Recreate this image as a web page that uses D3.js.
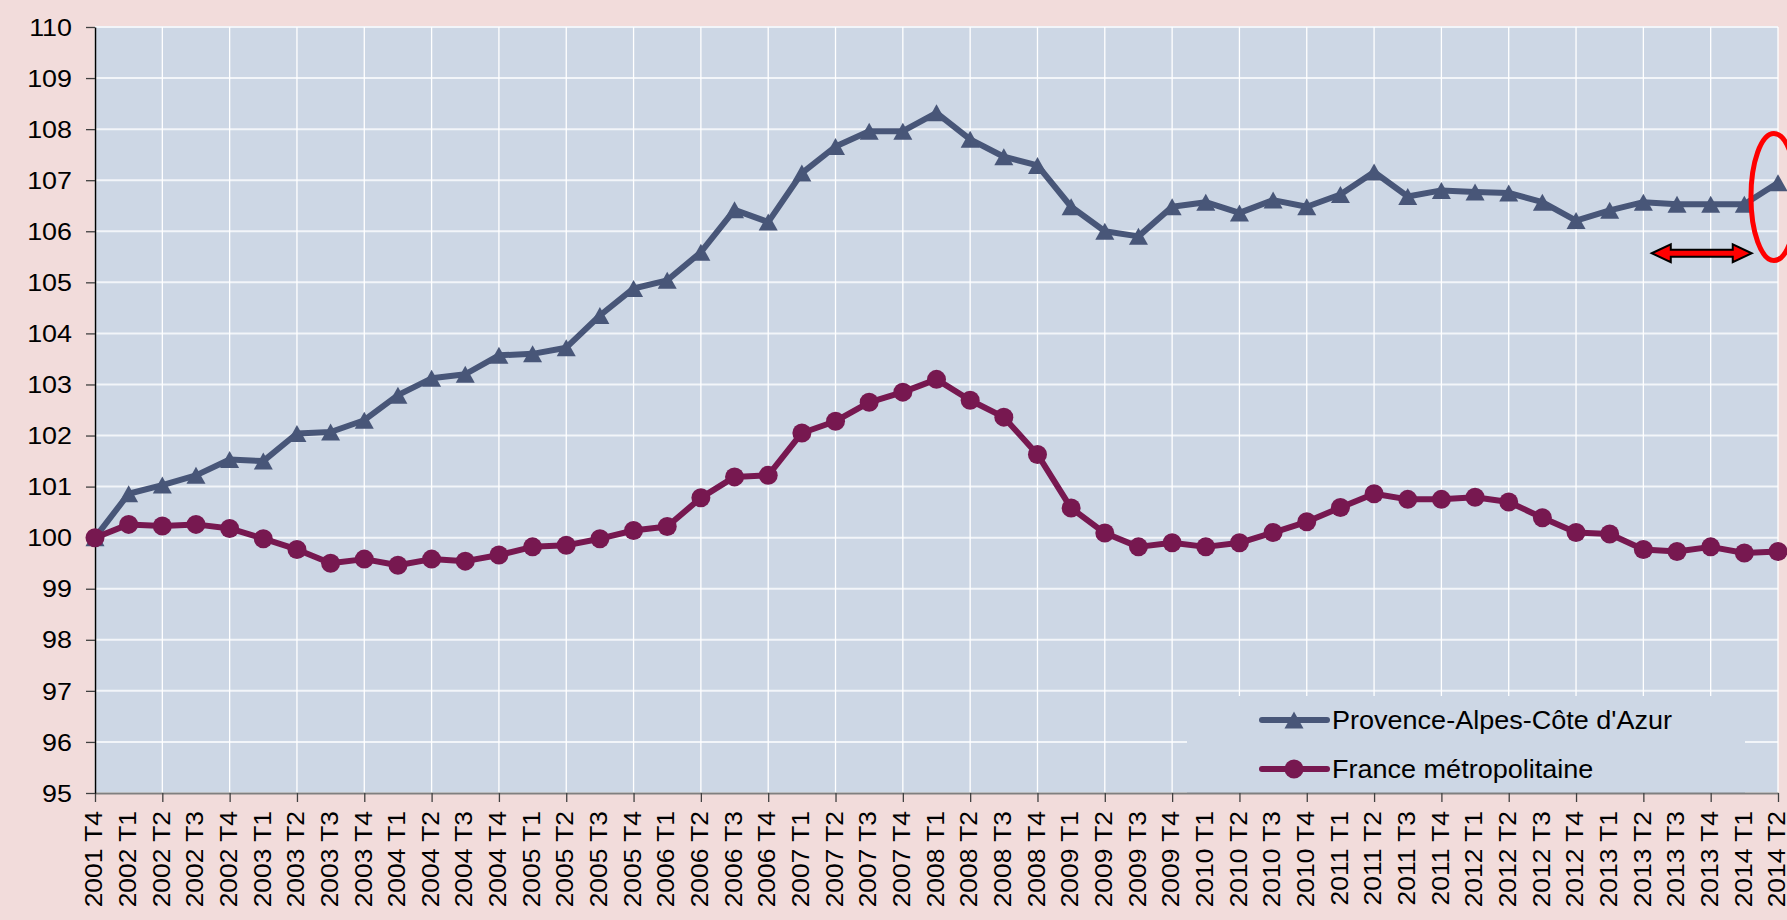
<!DOCTYPE html>
<html>
<head>
<meta charset="utf-8">
<script src="https://cdnjs.cloudflare.com/ajax/libs/d3/7.8.5/d3.min.js"></script>
<style>
body { margin: 0; background: #f2dcdb; }
svg { display: block; }
</style>
</head>
<body>
<svg id="chart"></svg>
<script>
const categories = [
    "2001 T4",
    "2002 T1", "2002 T2", "2002 T3", "2002 T4",
    "2003 T1", "2003 T2", "2003 T3", "2003 T4",
    "2004 T1", "2004 T2", "2004 T3", "2004 T4",
    "2005 T1", "2005 T2", "2005 T3", "2005 T4",
    "2006 T1", "2006 T2", "2006 T3", "2006 T4",
    "2007 T1", "2007 T2", "2007 T3", "2007 T4",
    "2008 T1", "2008 T2", "2008 T3", "2008 T4",
    "2009 T1", "2009 T2", "2009 T3", "2009 T4",
    "2010 T1", "2010 T2", "2010 T3", "2010 T4",
    "2011 T1", "2011 T2", "2011 T3", "2011 T4",
    "2012 T1", "2012 T2", "2012 T3", "2012 T4",
    "2013 T1", "2013 T2", "2013 T3", "2013 T4",
    "2014 T1", "2014 T2"
];

// Provence-Alpes-Côte d'Azur
const pacaValues = [
    100.00,
    100.86, 101.03, 101.22, 101.53,
    101.50, 102.04, 102.07, 102.30,
    102.79, 103.12, 103.20, 103.57,
    103.60, 103.72, 104.35, 104.88,
    105.04, 105.59, 106.42, 106.18,
    107.14, 107.66, 107.96, 107.96,
    108.32, 107.80, 107.46, 107.29,
    106.48, 106.00, 105.90, 106.48,
    106.57, 106.36, 106.61, 106.48,
    106.72, 107.16, 106.68, 106.80,
    106.77, 106.75, 106.57, 106.21,
    106.41, 106.57, 106.53, 106.53,
    106.53, 106.95
];

// France métropolitaine
const franceValues = [
    100.00,
    100.26, 100.23, 100.26, 100.18,
    99.98, 99.77, 99.50, 99.58,
    99.46, 99.58, 99.54, 99.66,
    99.82, 99.85, 99.98, 100.14,
    100.22, 100.78, 101.19, 101.22,
    102.05, 102.28, 102.65, 102.85,
    103.10, 102.69, 102.36, 101.63,
    100.58, 100.09, 99.82, 99.90,
    99.82, 99.90, 100.10, 100.31,
    100.59, 100.86, 100.75, 100.75,
    100.79, 100.70, 100.39, 100.10,
    100.07, 99.77, 99.73, 99.82,
    99.70, 99.73
];

const seriesNames = ["Provence-Alpes-Côte d'Azur", "France métropolitaine"];
const yTicks = d3.range(95, 111);

// annotation (index units on x, values on y)
const arrowFrom = 46.25, arrowTo = 49.22, arrowAt = 105.57;
const ellipseAt = [49.88, 106.67];

const width = 1787, height = 920;
const margin = {top: 27, right: 9, bottom: 127, left: 95};
const innerW = width - margin.left - margin.right,
    innerH = height - margin.top - margin.bottom;

const fontFamily = '"Liberation Sans", Arial, Helvetica, sans-serif';
const pacaColor = "#485678",
    franceColor = "#771850",
    plotBg = "#cdd7e5";

const svg = d3.select("#chart").attr("width", width).attr("height", height);
svg.append("rect").attr("width", width).attr("height", height).attr("fill", "#f2dcdb");

const g = svg.append("g").attr("transform", `translate(${margin.left},${margin.top})`);

const x = d3.scalePoint().domain(categories).range([0, innerW]).padding(0);
const xi = d3.scaleLinear().domain([0, categories.length - 1]).range([0, innerW]);
const y = d3.scaleLinear().domain([95, 110]).range([innerH, 0]);

g.append("rect")
    .attr("width", innerW)
    .attr("height", innerH)
    .attr("fill", plotBg);

// gridlines
g.append("g").selectAll("line")
    .data(yTicks)
    .join("line")
    .attr("x1", 0).attr("x2", innerW)
    .attr("y1", d => y(d)).attr("y2", d => y(d))
    .attr("stroke", "#f2f5f9")
    .attr("stroke-width", 2);

g.append("g").selectAll("line")
    .data(categories.filter((d, i) => i % 2 == 0))
    .join("line")
    .attr("x1", d => x(d)).attr("x2", d => x(d))
    .attr("y1", 0).attr("y2", innerH)
    .attr("stroke", "#ffffff")
    .attr("stroke-width", 1.3);

// legend box hides the grid behind it
const legendBox = {x: 1092, y: 669, w: 558, h: innerH - 669};
g.append("rect")
    .attr("x", legendBox.x).attr("y", legendBox.y)
    .attr("width", legendBox.w).attr("height", legendBox.h)
    .attr("fill", plotBg);

// x axis
const xAxis = g.append("g")
    .attr("transform", `translate(0,${innerH})`)
    .call(d3.axisBottom(x).tickSize(9).tickSizeOuter(0));
xAxis.attr("font-family", fontFamily).attr("font-size", 24).attr("color", "#000");
xAxis.select(".domain").attr("stroke", "#808080").attr("stroke-width", 2);
xAxis.selectAll(".tick line")
    .attr("stroke", "#404040")
    .attr("stroke-width", 1.3)
    .attr("opacity", (d, i) => i % 2 == 0 ? 1 : 0);
xAxis.selectAll(".tick text")
    .attr("x", 0).attr("y", 0)
    .attr("dy", "0.28em")
    .attr("text-anchor", "end")
    .attr("transform", "translate(0,18) rotate(-90) scale(1.1,1)");

// y axis
const yAxis = g.append("g")
    .call(d3.axisLeft(y).tickValues(yTicks).tickSize(9).tickSizeOuter(0));
yAxis.attr("font-family", fontFamily).attr("font-size", 24).attr("color", "#000");
yAxis.select(".domain").attr("stroke", "#000").attr("stroke-width", 1.5);
yAxis.selectAll(".tick line").attr("stroke", "#404040").attr("stroke-width", 1.3);
yAxis.selectAll(".tick text")
    .attr("x", 0)
    .attr("dy", "0.34em")
    .attr("transform", "translate(-23,0) scale(1.12,1)");

// markers
const triangle = function(w, h) {
    return `M0,${-h / 2}L${w / 2},${h / 2}L${-w / 2},${h / 2}Z`;
};

const line = d3.line()
    .x((d, i) => x(categories[i]))
    .y(d => y(d));

const series = [
    {name: seriesNames[0], values: pacaValues, color: pacaColor, marker: "triangle"},
    {name: seriesNames[1], values: franceValues, color: franceColor, marker: "circle"}
];

series.forEach(function(s) {
    g.append("path")
        .datum(s.values)
        .attr("fill", "none")
        .attr("stroke", s.color)
        .attr("stroke-width", 6)
        .attr("stroke-linejoin", "round")
        .attr("d", line);

    const m = g.append("g");
    if (s.marker == "triangle") {
        m.selectAll("path")
            .data(s.values)
            .join("path")
            .attr("transform", (d, i) => `translate(${x(categories[i])},${y(d)})`)
            .attr("d", triangle(19, 17))
            .attr("fill", s.color);
    } else {
        m.selectAll("circle")
            .data(s.values)
            .join("circle")
            .attr("cx", (d, i) => x(categories[i]))
            .attr("cy", d => y(d))
            .attr("r", 9.5)
            .attr("fill", s.color);
    }
});

// legend entries
const legend = g.append("g")
    .attr("transform", `translate(${legendBox.x},${legendBox.y})`);
const item = legend.selectAll("g")
    .data(series)
    .join("g")
    .attr("transform", (d, i) => `translate(0,${24 + i * 49})`);
item.append("line")
    .attr("x1", 75).attr("x2", 140)
    .attr("stroke", d => d.color)
    .attr("stroke-width", 6)
    .attr("stroke-linecap", "round");
item.filter(d => d.marker == "triangle").append("path")
    .attr("transform", "translate(107,0)")
    .attr("d", triangle(19, 17))
    .attr("fill", d => d.color);
item.filter(d => d.marker == "circle").append("circle")
    .attr("cx", 107)
    .attr("r", 9.5)
    .attr("fill", d => d.color);
item.append("text")
    .attr("transform", "translate(145,0) scale(1.06,1)")
    .attr("dy", "0.35em")
    .attr("font-family", fontFamily)
    .attr("font-size", 25.5)
    .attr("fill", "#000")
    .text(d => d.name);

// red ellipse round the last point
g.append("ellipse")
    .attr("cx", xi(ellipseAt[0]))
    .attr("cy", y(ellipseAt[1]))
    .attr("rx", 23)
    .attr("ry", 63.5)
    .attr("fill", "none")
    .attr("stroke", "#ff0000")
    .attr("stroke-width", 5);

// double arrow
const arrowPath = function(x0, x1, cy) {
    const hl = 19, hw = 9, sw = 3.5;
    return `M${x0},${cy}L${x0 + hl},${cy - hw}L${x0 + hl},${cy - sw}L${x1 - hl},${cy - sw}` +
        `L${x1 - hl},${cy - hw}L${x1},${cy}L${x1 - hl},${cy + hw}L${x1 - hl},${cy + sw}` +
        `L${x0 + hl},${cy + sw}L${x0 + hl},${cy + hw}Z`;
};
g.append("path")
    .attr("d", arrowPath(xi(arrowFrom), xi(arrowTo), y(arrowAt)))
    .attr("fill", "#ff0000")
    .attr("stroke", "#000")
    .attr("stroke-width", 2)
    .attr("stroke-linejoin", "miter");
</script>
</body>
</html>
